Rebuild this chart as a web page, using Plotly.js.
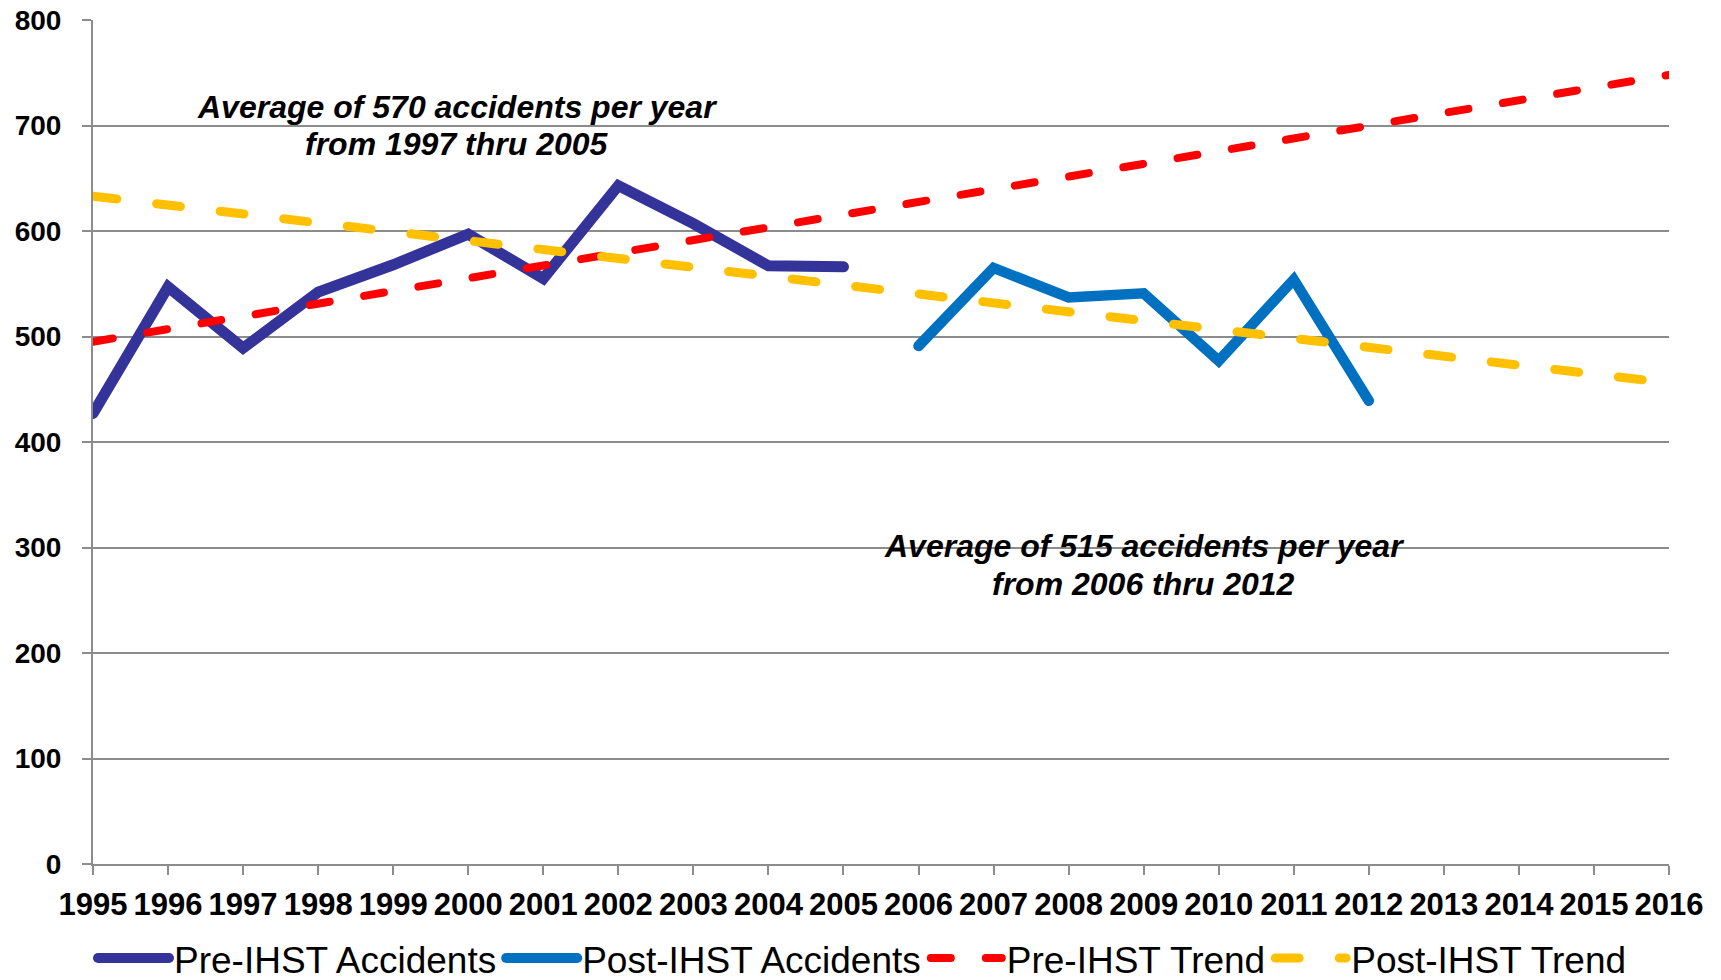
<!DOCTYPE html>
<html>
<head>
<meta charset="utf-8">
<script src="https://cdn.plot.ly/plotly-3.0.1.min.js"></script>
<style>
  html, body { margin: 0; padding: 0; background: #fff; }
  #chart { width: 1721px; height: 980px; }
  .scatterlayer .js-line, .legend .js-line { stroke-linecap: round; }
</style>
</head>
<body>
<div id="chart"></div>
<script>
// ---- data ----
const preYears = [1995, 1996, 1997, 1998, 1999, 2000, 2001, 2002, 2003, 2004, 2005];
const preAccidents = [427, 547, 489, 542, 568, 597, 555, 643, 607, 567, 566];
const postYears = [2006, 2007, 2008, 2009, 2010, 2011, 2012];
const postAccidents = [491, 565, 537, 541, 477, 554, 439];
const trendYears = [1995, 2016];
const preTrend = [495, 748];
const postTrend = [633, 456];
const seriesNames = ['Pre-IHST Accidents', 'Post-IHST Accidents', 'Pre-IHST Trend', 'Post-IHST Trend'];
const note1 = ['Average of 570 accidents per year', 'from 1997 thru 2005'];
const note1Pos = { x: 1999.85, y: [718, 682] };
const note2 = ['Average of 515 accidents per year', 'from 2006 thru 2012'];
const note2Pos = { x: 2009, y: [301, 265] };

const FONT = 'Liberation Sans, Arial, sans-serif';
const GRID = '#8c8c8c';

const traces = [
  { x: preYears, y: preAccidents, name: seriesNames[0], type: 'scatter', mode: 'lines',
    line: { color: '#333399', width: 11 } },
  { x: postYears, y: postAccidents, name: seriesNames[1], type: 'scatter', mode: 'lines',
    line: { color: '#0070C0', width: 10.5 } },
  { x: trendYears, y: preTrend, name: seriesNames[2], type: 'scatter', mode: 'lines',
    line: { color: '#FF0000', width: 8, dash: '20px,35px' } },
  { x: trendYears, y: postTrend, name: seriesNames[3], type: 'scatter', mode: 'lines',
    line: { color: '#FFC000', width: 9, dash: '24px,40px' } }
];

const noteFont = { family: FONT, size: 32, weight: 'bold', style: 'italic', color: '#000' };
function noteLines(lines, pos) {
  return lines.map((t, i) => ({
    x: pos.x, y: pos.y[i], xref: 'x', yref: 'y', text: t, showarrow: false,
    xanchor: 'center', yanchor: 'middle', align: 'center', font: noteFont
  }));
}

const layout = {
  width: 1721, height: 980,
  margin: { l: 93, r: 52, t: 20, b: 116, autoexpand: false },
  paper_bgcolor: '#fff', plot_bgcolor: '#fff',
  font: { family: FONT, color: '#000' },
  showlegend: true,
  legend: {
    orientation: 'h', x: 0, xanchor: 'left', y: -0.112, yanchor: 'middle',
    font: { family: FONT, size: 37, color: '#000' },
    itemwidth: 71, traceorder: 'normal', bgcolor: 'rgba(0,0,0,0)'
  },
  xaxis: {
    range: [1995, 2016], tick0: 1995, dtick: 1, tickangle: 0,
    showgrid: false, zeroline: false,
    showline: true, linecolor: GRID, linewidth: 2,
    ticks: 'outside', ticklen: 9, tickwidth: 2, tickcolor: GRID,
    tickfont: { family: FONT, size: 31, weight: 'bold', color: '#000' },
    ticklabelstandoff: 3
  },
  yaxis: {
    range: [0, 800], tick0: 0, dtick: 100,
    showgrid: true, gridcolor: GRID, gridwidth: 2, zeroline: false,
    showline: true, linecolor: GRID, linewidth: 2,
    ticks: 'outside', ticklen: 9, tickwidth: 2, tickcolor: GRID,
    tickfont: { family: FONT, size: 28, weight: 'bold', color: '#000' },
    ticklabelstandoff: 15
  },
  annotations: noteLines(note1, note1Pos).concat(noteLines(note2, note2Pos))
};

Plotly.newPlot('chart', traces, layout, { displayModeBar: false, staticPlot: true });
</script>
</body>
</html>
